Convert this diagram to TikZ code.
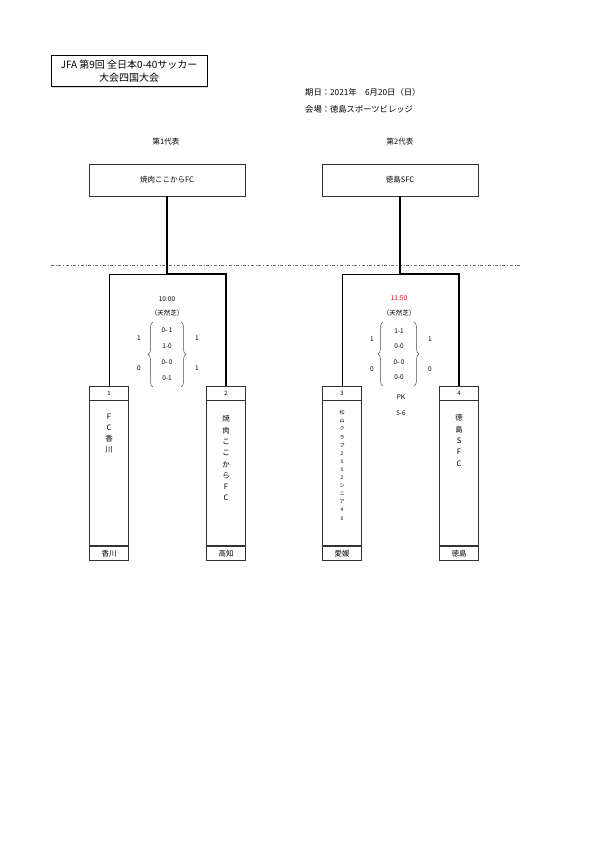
\documentclass[tikz,border=0pt]{standalone}
\usepackage{fontspec}
\setmainfont{Noto Sans CJK JP}
\usetikzlibrary{positioning, calc, shadows, decorations.pathreplacing}

\begin{document}
\begin{tikzpicture}[x=1pt, y=-1pt,
            every node/.style={inner sep=0pt, font=\fontsize{6.5}{8}\selectfont},
            titlebox/.style={draw, line width=0.6pt, fill=white, minimum width=156pt, minimum height=31pt, align=center, font=\fontsize{10}{13}\selectfont, drop shadow={shadow xshift=1pt, shadow yshift=-1pt, fill=gray!60}},
            headbox/.style={draw=black!80, line width=0.6pt, minimum width=156pt, minimum height=32pt, font=\fontsize{7.5}{8}\selectfont},
            numcell/.style={draw=black!80, line width=0.6pt, minimum width=39pt, minimum height=14pt, font=\fontsize{6}{7}\selectfont},
            namecell/.style={draw=black!80, line width=0.6pt, minimum width=39pt, minimum height=145pt},
            prefcell/.style={draw=black!80, line width=0.6pt, minimum width=39pt, minimum height=14pt, font=\fontsize{7.5}{8}\selectfont},
            vname/.style={align=center, font=\fontsize{7.5}{11.3}\selectfont},
            vsmall/.style={align=center, font=\fontsize{5}{8.1}\selectfont},
            lose/.style={line width=0.8pt},
            win/.style={line width=2pt},
            % スコアの括弧
            scorebrace/.style={decorate, decoration={brace, amplitude=5pt}, line width=0.5pt, black!70}
        ]
            \useasboundingbox (0,0) rectangle (595,841);

            % --- 見出し ---
            \node[titlebox] (title) at (129,71) {JFA 第9回 全日本0-40サッカー\\大会四国大会};
            \node[anchor=west, font=\fontsize{8.3}{9}\selectfont] (date) at (305,92) {期日：2021年　6月20日（日）};
            \node[anchor=west, font=\fontsize{8.3}{9}\selectfont] (venue) at (305,109) {会場：徳島スポーツビレッジ};

            % --- 代表 ---
            \node[font=\fontsize{7.5}{8}\selectfont] (repA) at (166,142) {第1代表};
            \node[font=\fontsize{7.5}{8}\selectfont] (repB) at (400,142) {第2代表};
            \node[headbox] (hA) at (167,180) {焼肉ここからFC};
            \node[headbox] (hB) at (400,180) {徳島SFC};

            % 区切り線
            \draw[black!60, dash dot, line width=0.5pt] (51,265) -- (522,265);

            % --- チーム ---
            \node[numcell] (n1) at (109,393) {1};
            \node[namecell, below=0pt of n1] (c1) {};
            \node[prefcell, below=0pt of c1] (p1) {香川};
            \node[vname, below=13pt of n1] (v1) {F\\C\\香\\川};

            \node[numcell] (n2) at (226,393) {2};
            \node[namecell, below=0pt of n2] (c2) {};
            \node[prefcell, below=0pt of c2] (p2) {高知};
            \node[vname, below=15pt of n2] (v2) {焼\\肉\\こ\\こ\\か\\ら\\F\\C};

            \node[numcell] (n3) at (342,393) {3};
            \node[namecell, below=0pt of n3] (c3) {};
            \node[prefcell, below=0pt of c3] (p3) {愛媛};
            \node[vsmall, below=10pt of n3] (v3) {松\\山\\ク\\ラ\\ブ\\2\\0\\0\\2\\シ\\ニ\\ア\\4\\0};

            \node[numcell] (n4) at (459,393) {4};
            \node[namecell, below=0pt of n4] (c4) {};
            \node[prefcell, below=0pt of c4] (p4) {徳島};
            \node[vname, below=14pt of n4] (v4) {徳\\島\\S\\F\\C};

            % --- 組み合わせ ---
            \coordinate (jA) at (167,274);
            \coordinate (jB) at (400,274);
            \draw[lose] (jA) -| (n1);
            \draw[win] (hA) -- (jA) -| (n2);
            \draw[lose] (jB) -| (n3);
            \draw[win] (hB) -- (jB) -| (n4);

            % --- 試合1 ---
            \node (t1) at (167,299) {10:00};
            \node (g1) at (167,313) {（天然芝）};
            \node (s1a) at (167,330) {0- 1};
            \node (s1b) at (167,346) {1-0};
            \node (s1c) at (167,362) {0- 0};
            \node (s1d) at (167,378) {0-1};
            \node (l1a) at (139,338) {1};
            \node (l1b) at (139,368) {0};
            \node (r1a) at (197,338) {1};
            \node (r1b) at (197,368) {1};
            \draw[scorebrace] (153,387) -- (153,322);
            \draw[scorebrace] (181,322) -- (181,387);

            % --- 試合2 ---
            \node[red!80!black] (t2) at (399,298) {11:50};
            \node (g2) at (399,313) {（天然芝）};
            \node (s2a) at (399,331) {1-1};
            \node (s2b) at (399,346) {0-0};
            \node (s2c) at (399,362) {0- 0};
            \node (s2d) at (399,377) {0-0};
            \node (l2a) at (372,339) {1};
            \node (l2b) at (372,369) {0};
            \node (r2a) at (430,339) {1};
            \node (r2b) at (430,369) {0};
            \draw[scorebrace] (383,386) -- (383,322);
            \draw[scorebrace] (414,322) -- (414,386);
            \node (pk) at (401,397) {PK};
            \node (pks) at (401,413) {5-6};
        \end{tikzpicture}
\end{document}
